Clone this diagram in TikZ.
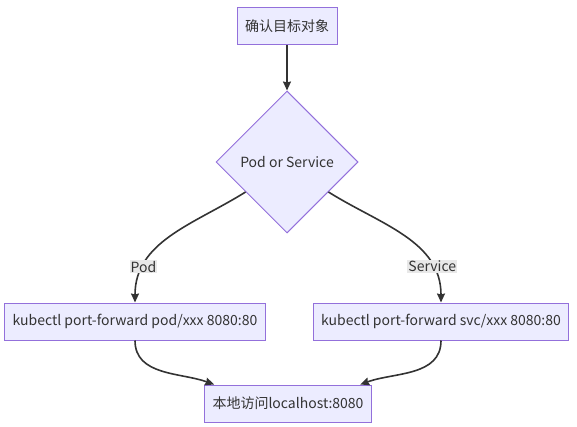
\documentclass[tikz,border=0pt]{standalone}
\usepackage{fontspec}
\setmainfont{Noto Sans CJK SC}
\usetikzlibrary{arrows.meta,positioning,calc,shapes.geometric}
\definecolor{nodebg}{HTML}{ECECFF}
\definecolor{nodeborder}{HTML}{9370DB}
\definecolor{linegray}{HTML}{333333}
\definecolor{labelbg}{HTML}{E8E8E8}
\definecolor{textgray}{HTML}{333333}

\begin{document}
\begin{tikzpicture}[
    x=1pt, y=1pt,
    >={Stealth[length=9pt,width=8pt,inset=1pt]},
    every node/.style={font=\fontsize{14}{16}\selectfont, text=textgray},
    stepbox/.style={
        draw=nodeborder, fill=nodebg, line width=1pt,
        minimum height=37pt, inner xsep=8pt, inner ysep=0pt
    },
    choice/.style={
        diamond, aspect=1, draw=nodeborder, fill=nodebg,
        line width=1pt, minimum size=142pt, inner sep=0pt
    },
    flow/.style={
        ->, draw=linegray, line width=1.6pt
    },
    edgelabel/.style={
        fill=labelbg, inner sep=1pt
    },
]

\useasboundingbox (0,0) rectangle (577,-427);

% ===== Nodes =====
\node[stepbox] (target) at (287,-26.5) {确认目标对象};
\node[choice, below=45pt of target] (kind) {Pod or Service};

\node[stepbox, below=69pt of kind, xshift=-152pt] (podfwd) {kubectl port-forward pod/xxx 8080:80};
\node[stepbox, below=69pt of kind, xshift=154pt] (svcfwd) {kubectl port-forward svc/xxx 8080:80};

\coordinate (mid) at ($(podfwd.south)!0.5!(svcfwd.south)$);
\node[stepbox, below=44pt of mid] (local) {本地访问localhost:8080};

% ===== Arrows =====
\draw[flow] (target) -- (kind);

\draw[flow] ($(kind.west)!0.42!(kind.south)$) to[out=212, in=90]
    node[edgelabel, pos=0.77] {Pod} (podfwd.north);
\draw[flow] ($(kind.east)!0.42!(kind.south)$) to[out=-32, in=90]
    node[edgelabel, pos=0.77] {Service} (svcfwd.north);

\draw[flow] (podfwd.south) to[out=-90, in=160]
    ($(local.north west)!0.06!(local.north east)$);
\draw[flow] (svcfwd.south) to[out=-90, in=20]
    ($(local.north west)!0.93!(local.north east)$);

\end{tikzpicture}
\end{document}
